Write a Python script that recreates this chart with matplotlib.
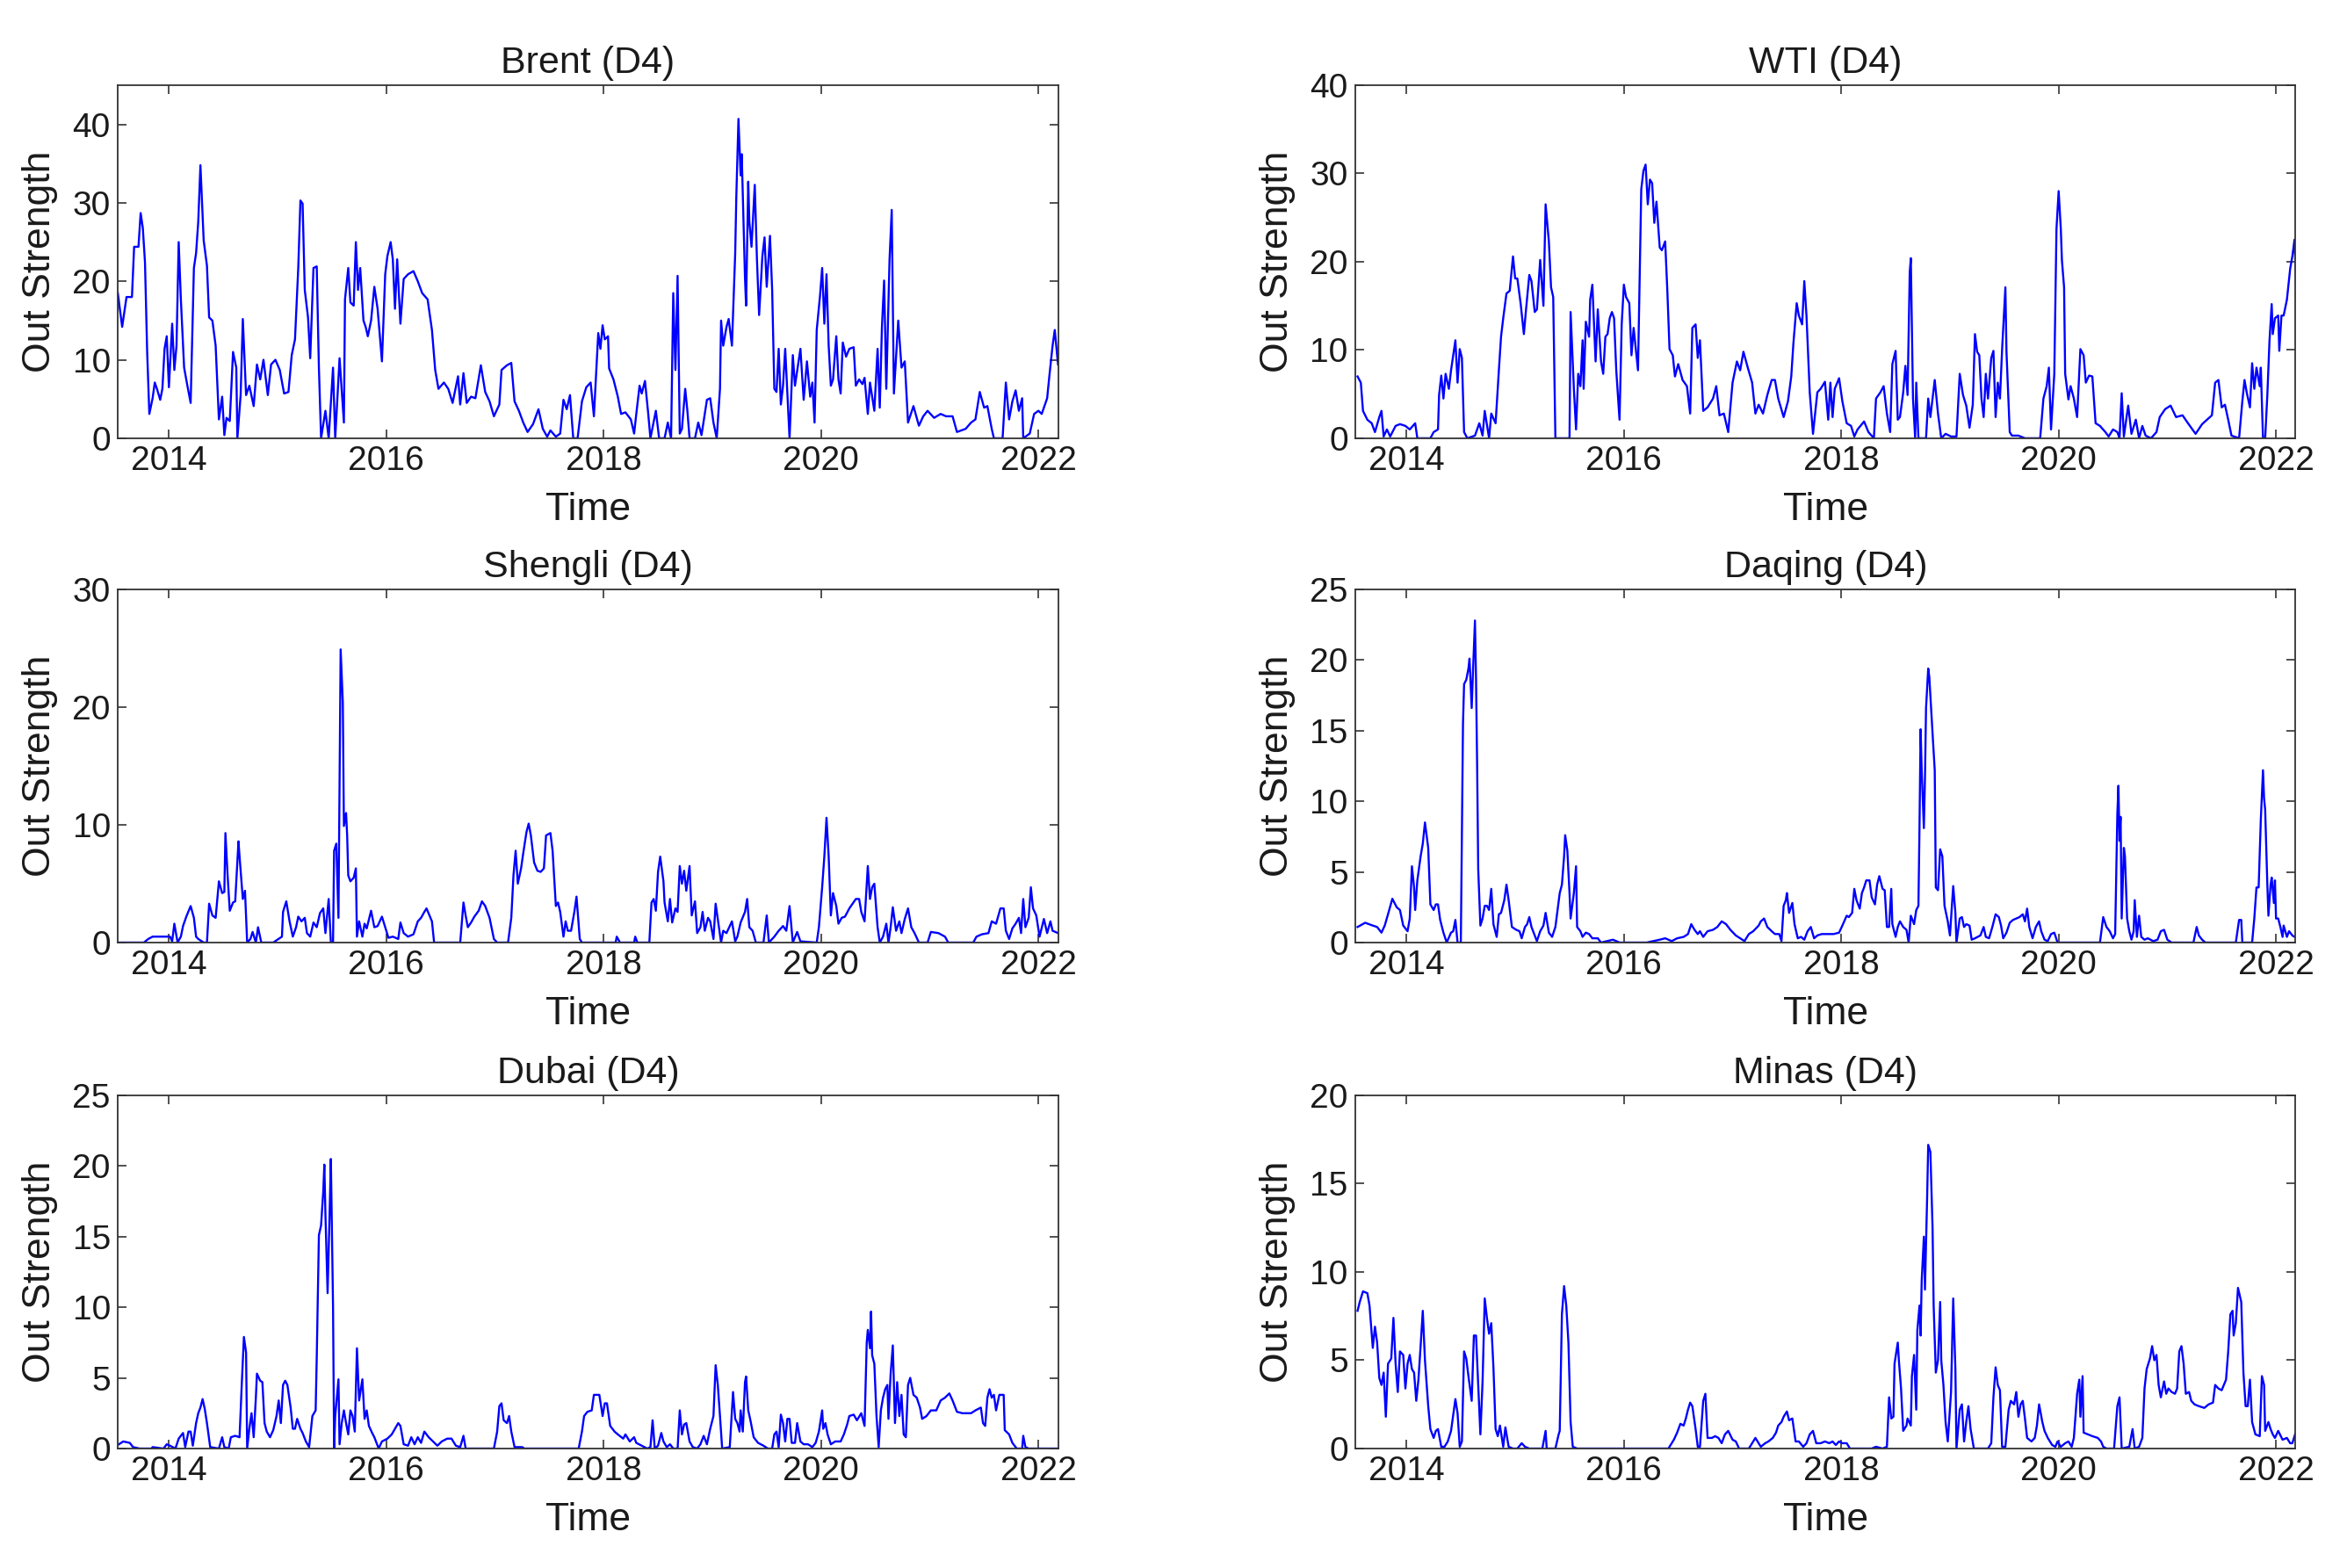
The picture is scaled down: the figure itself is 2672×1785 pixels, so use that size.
import numpy as np
import matplotlib
matplotlib.use('Agg')
import matplotlib.pyplot as plt

plt.rcParams['font.family'] = ['Liberation Sans', 'DejaVu Sans']

# (decimal year, out strength)
brent = [(2013.53,18.5),(2013.57,14.2),(2013.61,18.0),(2013.66,18.0),(2013.68,24.4),(2013.72,24.4),(2013.74,28.7),(2013.76,26.8),(2013.78,22.4),(2013.80,11.0),(2013.82,3.1),(2013.85,5.1),(2013.87,7.1),(2013.89,6.3),(2013.92,4.9),(2013.94,6.3),(2013.96,11.4),(2013.98,13.0),(2014.00,6.5),(2014.03,14.6),(2014.05,8.7),(2014.07,11.8),(2014.09,25.0),(2014.11,17.7),(2014.14,9.0),(2014.17,6.7),(2014.20,4.5),(2014.23,21.7),(2014.25,23.6),(2014.27,27.6),(2014.29,34.8),(2014.32,25.2),(2014.35,22.0),(2014.37,15.4),(2014.40,15.0),(2014.43,11.8),(2014.46,2.4),(2014.49,5.3),(2014.51,0.4),(2014.53,2.6),(2014.56,2.2),(2014.59,11.0),(2014.62,9.0),(2014.63,0.0),(2014.66,5.5),(2014.68,15.2),(2014.71,5.5),(2014.74,6.7),(2014.78,4.1),(2014.81,9.4),(2014.84,7.5),(2014.87,10.0),(2014.91,5.5),(2014.94,9.4),(2014.98,10.0),(2015.02,8.7),(2015.06,5.7),(2015.10,5.9),(2015.13,10.6),(2015.16,12.6),(2015.19,21.7),(2015.21,30.3),(2015.23,29.9),(2015.25,18.9),(2015.28,15.4),(2015.30,10.2),(2015.33,21.7),(2015.36,21.9),(2015.38,9.0),(2015.40,0.0),(2015.44,3.5),(2015.47,0.0),(2015.51,9.0),(2015.53,0.0),(2015.57,10.2),(2015.61,2.0),(2015.62,17.7),(2015.65,21.7),(2015.67,17.3),(2015.70,16.9),(2015.72,25.0),(2015.74,18.9),(2015.76,21.7),(2015.79,15.0),(2015.81,14.2),(2015.83,13.0),(2015.86,15.0),(2015.89,19.3),(2015.92,16.5),(2015.96,9.8),(2015.99,20.9),(2016.01,23.2),(2016.04,25.0),(2016.06,22.8),(2016.08,16.5),(2016.10,22.8),(2016.13,14.6),(2016.16,20.3),(2016.20,20.9),(2016.25,21.3),(2016.29,20.0),(2016.33,18.5),(2016.38,17.7),(2016.42,13.8),(2016.45,8.7),(2016.48,6.3),(2016.53,7.1),(2016.57,6.3),(2016.61,4.5),(2016.66,7.9),(2016.68,4.3),(2016.71,8.3),(2016.74,4.5),(2016.78,5.3),(2016.82,5.1),(2016.87,9.3),(2016.91,5.9),(2016.95,4.7),(2016.99,2.8),(2017.04,4.3),(2017.06,8.7),(2017.11,9.3),(2017.15,9.6),(2017.18,4.7),(2017.22,3.5),(2017.26,2.0),(2017.30,0.8),(2017.35,1.8),(2017.40,3.7),(2017.44,1.2),(2017.48,0.2),(2017.51,1.0),(2017.56,0.2),(2017.60,0.6),(2017.63,4.9),(2017.66,3.7),(2017.69,5.5),(2017.72,0.0),(2017.76,0.0),(2017.80,4.7),(2017.84,6.5),(2017.88,7.1),(2017.91,2.8),
         (2017.95,13.4),(2017.97,11.4),(2017.99,14.4),(2018.01,12.6),(2018.04,13.0),(2018.05,8.9),(2018.09,7.5),(2018.13,5.3),(2018.16,3.1),(2018.20,3.3),(2018.25,2.4),(2018.28,0.6),(2018.30,3.1),(2018.33,6.7),(2018.35,5.7),(2018.38,7.3),(2018.41,3.1),(2018.43,0.0),(2018.48,3.5),(2018.51,0.0),(2018.56,0.0),(2018.59,2.0),(2018.62,0.0),(2018.64,18.5),(2018.66,8.7),(2018.68,20.7),(2018.70,0.6),(2018.72,1.2),(2018.75,6.3),(2018.77,3.5),(2018.79,0.0),(2018.84,0.0),(2018.87,2.0),(2018.90,0.4),(2018.95,4.9),(2018.98,5.1),(2019.01,2.0),(2019.04,0.0),(2019.07,6.3),(2019.08,15.0),(2019.10,11.8),(2019.13,14.2),(2019.15,15.2),(2019.18,11.8),(2019.21,23.6),(2019.22,30.7),(2019.24,40.7),(2019.26,33.5),(2019.27,36.2),(2019.30,20.5),(2019.31,16.9),(2019.33,32.7),(2019.34,27.6),(2019.36,24.4),(2019.39,32.3),(2019.41,22.8),(2019.43,15.7),(2019.46,23.2),(2019.48,25.6),(2019.50,19.3),(2019.53,25.8),(2019.55,18.9),(2019.57,6.3),(2019.59,5.9),(2019.61,11.4),(2019.63,4.3),(2019.65,6.7),(2019.67,11.4),(2019.71,0.0),(2019.74,10.6),(2019.76,6.7),(2019.81,11.4),(2019.84,4.9),(2019.87,9.8),(2019.90,5.3),(2019.92,7.1),(2019.94,2.0),(2019.96,13.8),(2019.99,18.1),(2020.01,21.7),(2020.03,14.6),(2020.05,20.9),(2020.07,11.8),(2020.09,6.7),(2020.11,7.5),(2020.14,13.0),(2020.16,7.5),(2020.18,5.7),(2020.20,12.2),(2020.23,10.4),(2020.26,11.4),(2020.30,11.6),(2020.32,6.7),(2020.35,7.5),(2020.38,6.9),(2020.40,7.7),(2020.43,3.1),(2020.45,7.1),(2020.49,3.5),(2020.52,11.4),(2020.54,3.9),(2020.56,14.2),(2020.58,20.1),(2020.60,6.3),(2020.63,22.8),(2020.65,29.1),(2020.67,5.7),(2020.71,15.0),(2020.74,9.0),(2020.77,9.8),(2020.80,2.0),(2020.85,4.1),(2020.90,1.6),(2020.94,2.8),(2020.98,3.5),(2021.04,2.6),(2021.10,3.1),(2021.15,2.8),(2021.21,2.8),(2021.25,0.8),(2021.33,1.2),(2021.38,2.0),(2021.42,2.4),(2021.46,5.9),(2021.50,3.9),(2021.53,4.1),(2021.57,1.2),(2021.59,0.0),(2021.67,0.0),(2021.70,7.1),(2021.73,2.4),(2021.76,4.7),(2021.79,6.1),(2021.82,3.5),(2021.85,5.1),(2021.86,0.0),(2021.92,0.6),(2021.96,3.1),(2022.00,3.5),(2022.03,3.1),(2022.08,5.1),(2022.10,7.9),(2022.13,11.8),(2022.15,13.8),(2022.18,9.4)]

wti = [(2013.55,7.0),(2013.58,6.3),(2013.60,3.1),(2013.64,2.1),(2013.68,1.7),(2013.71,0.7),(2013.75,2.4),(2013.77,3.1),(2013.79,0.2),(2013.82,1.0),(2013.85,0.2),(2013.90,1.4),(2013.94,1.6),(2013.99,1.4),(2014.03,1.0),(2014.08,1.7),(2014.10,0.0),(2014.22,0.0),(2014.25,0.7),(2014.29,1.0),(2014.30,4.9),(2014.32,7.1),(2014.34,4.5),(2014.36,7.3),(2014.39,5.6),(2014.41,7.7),(2014.43,9.4),(2014.45,11.1),(2014.47,6.3),(2014.49,10.1),(2014.51,9.1),(2014.53,0.7),(2014.56,0.0),(2014.63,0.3),(2014.67,1.7),(2014.70,0.3),(2014.72,3.1),(2014.76,0.0),(2014.78,2.8),(2014.82,1.7),(2014.85,7.7),(2014.87,11.5),(2014.89,13.6),(2014.92,16.4),(2014.95,16.7),(2014.98,20.6),(2015.00,18.1),(2015.02,18.1),(2015.05,15.3),(2015.08,11.8),(2015.10,14.6),(2015.13,18.5),(2015.15,17.8),(2015.18,14.3),(2015.20,14.6),(2015.23,20.2),(2015.26,15.0),(2015.28,26.5),(2015.31,22.3),(2015.33,17.1),(2015.35,16.0),(2015.37,0.0),(2015.50,0.0),(2015.51,14.3),(2015.54,5.6),(2015.56,1.0),(2015.58,7.3),(2015.60,5.9),(2015.62,11.1),(2015.63,5.6),(2015.65,13.2),(2015.68,11.5),(2015.69,15.7),(2015.71,17.4),(2015.74,8.7),(2015.76,14.6),(2015.79,8.7),(2015.81,7.3),(2015.83,11.5),(2015.85,11.8),(2015.87,13.6),(2015.89,14.3),(2015.91,13.6),(2015.93,7.7),(2015.96,2.1),(2015.98,12.9),(2016.00,17.4),(2016.02,16.0),(2016.05,15.3),(2016.07,9.4),(2016.09,12.5),(2016.11,10.1),(2016.13,7.7),(2016.16,28.2),(2016.18,30.3),(2016.20,31.0),(2016.22,26.5),(2016.24,29.3),(2016.26,28.9),(2016.28,24.4),(2016.30,26.8),(2016.33,21.6),(2016.35,21.3),(2016.38,22.3),(2016.40,16.7),(2016.42,10.1),(2016.45,9.4),(2016.47,7.0),(2016.50,8.4),(2016.54,6.6),(2016.58,5.9),(2016.61,2.8),(2016.63,12.5),(2016.66,12.9),(2016.68,9.1),(2016.70,11.1),(2016.73,3.1),(2016.77,3.5),(2016.82,4.5),(2016.85,5.9),(2016.88,2.6),(2016.92,2.8),(2016.96,0.7),(2017.00,6.3),(2017.04,8.7),(2017.07,7.7),(2017.10,9.8),(2017.14,8.0),(2017.18,6.3),(2017.21,2.8),(2017.24,3.8),(2017.28,2.8),(2017.32,4.9),(2017.36,6.6),(2017.39,6.6),(2017.42,4.5),(2017.47,2.4),(2017.51,4.2),(2017.54,7.0),(2017.56,10.8),(2017.59,15.3),(2017.61,13.9),(2017.64,12.9),(2017.66,17.8),(2017.68,13.9),(2017.71,5.2),(2017.74,0.5),(2017.78,5.2),(2017.81,5.6),(2017.85,6.4),(2017.88,2.1),
       (2017.90,6.3),(2017.92,2.4),(2017.94,5.6),(2017.98,6.8),(2018.01,4.2),(2018.05,1.7),(2018.09,1.4),(2018.12,0.2),(2018.15,1.0),(2018.21,1.9),(2018.25,0.7),(2018.30,0.0),(2018.32,4.5),(2018.36,5.2),(2018.39,5.9),(2018.42,2.8),(2018.45,0.7),(2018.47,8.4),(2018.50,9.9),(2018.52,2.1),(2018.54,2.4),(2018.57,5.2),(2018.59,8.2),(2018.61,4.9),(2018.63,18.8),(2018.64,20.4),(2018.66,4.5),(2018.68,0.0),(2018.69,6.3),(2018.71,0.0),(2018.78,0.0),(2018.80,4.5),(2018.82,2.4),(2018.84,4.5),(2018.86,6.6),(2018.89,2.8),(2018.92,0.0),(2018.96,0.5),(2019.01,0.2),(2019.06,0.2),(2019.09,7.3),(2019.12,4.9),(2019.15,3.7),(2019.18,1.2),(2019.21,3.8),(2019.23,11.8),(2019.25,9.8),(2019.27,9.4),(2019.29,4.5),(2019.31,2.4),(2019.33,7.3),(2019.35,4.5),(2019.38,9.1),(2019.40,9.9),(2019.42,2.4),(2019.44,6.3),(2019.46,4.5),(2019.48,10.1),(2019.51,17.1),(2019.52,9.8),(2019.55,0.7),(2019.57,0.3),(2019.63,0.3),(2019.69,0.0),(2019.83,0.0),(2019.86,4.5),(2019.89,5.9),(2019.91,8.0),(2019.93,1.0),(2019.96,7.3),(2019.98,23.7),(2020.00,28.0),(2020.02,23.7),(2020.03,20.2),(2020.05,17.1),(2020.06,7.3),(2020.09,4.4),(2020.11,5.9),(2020.14,4.5),(2020.17,2.4),(2020.20,10.1),(2020.23,9.4),(2020.25,6.3),(2020.28,7.1),(2020.31,7.0),(2020.34,1.7),(2020.38,1.4),(2020.43,0.7),(2020.46,0.2),(2020.50,1.0),(2020.54,0.7),(2020.56,0.0),(2020.58,5.1),(2020.60,0.2),(2020.64,3.7),(2020.67,0.5),(2020.71,2.1),(2020.74,0.0),(2020.77,1.4),(2020.80,0.3),(2020.85,0.0),(2020.90,0.7),(2020.93,2.4),(2020.98,3.3),(2021.03,3.7),(2021.08,2.4),(2021.14,2.6),(2021.19,1.7),(2021.26,0.5),(2021.32,1.6),(2021.41,2.6),(2021.44,6.3),(2021.47,6.6),(2021.50,3.5),(2021.53,3.8),(2021.56,2.1),(2021.59,0.3),(2021.66,0.0),(2021.69,4.2),(2021.71,6.6),(2021.73,5.2),(2021.76,3.5),(2021.78,8.5),(2021.80,5.6),(2021.82,8.0),(2021.85,5.9),(2021.86,8.0),(2021.88,0.0),(2021.90,0.0),(2021.92,4.9),(2021.94,11.1),(2021.96,15.2),(2021.97,11.8),(2021.99,13.6),(2022.02,13.9),(2022.03,9.9),(2022.05,13.9),(2022.07,13.9),(2022.10,15.7),(2022.13,19.2),(2022.15,20.6),(2022.17,22.5),(2022.19,16.0)]

shengli = [(2013.54,0.0),(2013.77,0.0),(2013.81,0.3),(2013.85,0.5),(2013.91,0.5),(2014.01,0.5),(2014.03,0.1),(2014.05,1.6),(2014.08,0.0),(2014.11,0.5),(2014.13,1.4),(2014.16,2.2),(2014.20,3.1),(2014.23,2.1),(2014.25,0.5),(2014.27,0.3),(2014.32,0.0),(2014.35,0.0),(2014.37,3.3),(2014.40,2.3),(2014.43,2.1),(2014.46,5.2),(2014.49,4.2),(2014.51,4.3),(2014.52,9.3),(2014.54,5.7),(2014.56,2.7),(2014.59,3.4),(2014.61,3.5),(2014.64,8.6),(2014.65,7.3),(2014.68,3.7),(2014.70,4.4),(2014.72,0.0),(2014.75,0.3),(2014.77,0.9),(2014.80,0.0),(2014.82,1.3),(2014.85,0.0),(2014.96,0.0),(2015.04,0.5),(2015.05,2.6),(2015.08,3.5),(2015.11,1.8),(2015.14,0.5),(2015.17,1.3),(2015.19,2.2),(2015.22,1.8),(2015.25,2.1),(2015.27,0.8),(2015.30,0.5),(2015.33,1.7),(2015.36,1.3),(2015.39,2.5),(2015.42,2.9),(2015.44,0.8),(2015.47,3.7),(2015.49,0.0),(2015.51,0.0),(2015.52,7.8),(2015.54,8.4),(2015.56,2.1),(2015.58,24.9),(2015.60,20.4),(2015.61,9.9),(2015.63,11.0),(2015.64,9.1),(2015.65,5.7),(2015.67,5.2),(2015.70,5.5),(2015.72,6.3),(2015.73,0.5),(2015.75,1.8),(2015.78,0.5),(2015.80,1.6),(2015.82,1.2),(2015.86,2.7),(2015.89,1.3),(2015.92,1.4),(2015.96,2.2),(2015.99,1.3),(2016.02,0.4),(2016.06,0.5),(2016.11,0.3),(2016.13,1.7),(2016.16,0.8),(2016.20,0.5),(2016.25,0.7),(2016.29,1.8),(2016.32,2.1),(2016.35,2.6),(2016.37,2.9),(2016.42,1.8),(2016.44,0.0),(2016.68,0.0),(2016.71,3.4),(2016.73,2.3),(2016.75,1.3),(2016.78,1.7),(2016.81,2.2),(2016.85,2.7),(2016.88,3.5),(2016.91,3.1),(2016.95,2.1),(2016.99,0.3),(2017.02,0.0),(2017.12,0.0),(2017.15,2.1),(2017.17,5.7),(2017.19,7.8),(2017.21,5.0),(2017.24,6.3),(2017.26,7.6),(2017.29,9.4),(2017.31,10.1),(2017.33,9.1),(2017.36,6.8),(2017.39,6.1),(2017.42,6.0),(2017.45,6.3),(2017.47,9.1),(2017.51,9.3),(2017.53,7.8),(2017.56,3.1),(2017.58,3.4),(2017.60,2.6),(2017.63,0.5),(2017.65,1.8),(2017.67,1.0),(2017.70,1.0),(2017.73,2.6),(2017.75,3.9),(2017.78,0.3),(2017.80,0.0),
           (2018.11,0.0),(2018.12,0.5),(2018.15,0.0),(2018.28,0.0),(2018.29,0.5),(2018.31,0.0),(2018.42,0.0),(2018.44,3.4),(2018.46,3.7),(2018.48,2.7),(2018.50,6.0),(2018.52,7.3),(2018.55,5.2),(2018.56,3.4),(2018.59,1.8),(2018.61,3.7),(2018.63,1.7),(2018.66,2.9),(2018.68,2.6),(2018.70,6.5),(2018.72,5.0),(2018.74,6.1),(2018.76,4.4),(2018.79,6.5),(2018.81,2.3),(2018.84,3.5),(2018.86,0.8),(2018.89,1.3),(2018.91,2.6),(2018.93,1.0),(2018.96,2.1),(2018.98,1.8),(2019.01,0.3),(2019.03,3.3),(2019.06,1.3),(2019.08,0.0),(2019.10,1.0),(2019.13,0.8),(2019.15,1.2),(2019.18,1.8),(2019.21,0.1),(2019.23,0.5),(2019.26,1.7),(2019.30,2.6),(2019.32,3.7),(2019.34,1.3),(2019.37,1.0),(2019.40,0.0),(2019.47,0.0),(2019.50,2.3),(2019.52,0.0),(2019.57,0.5),(2019.61,1.0),(2019.65,1.4),(2019.68,1.0),(2019.71,3.1),(2019.74,0.0),(2019.78,0.9),(2019.81,0.1),(2019.96,0.0),(2019.98,1.3),(2020.01,4.7),(2020.03,7.3),(2020.05,10.6),(2020.07,7.3),(2020.09,2.3),(2020.11,4.2),(2020.14,3.1),(2020.16,1.6),(2020.19,2.1),(2020.22,2.2),(2020.26,2.9),(2020.29,3.3),(2020.32,3.7),(2020.35,3.7),(2020.37,2.6),(2020.40,1.8),(2020.43,6.5),(2020.45,3.7),(2020.47,4.7),(2020.49,5.0),(2020.52,1.3),(2020.54,0.0),(2020.57,0.5),(2020.60,1.6),(2020.62,0.0),(2020.64,1.3),(2020.66,3.0),(2020.69,1.0),(2020.72,1.8),(2020.74,0.8),(2020.77,2.0),(2020.80,2.9),(2020.83,1.3),(2020.86,0.8),(2020.90,0.0),(2020.98,0.0),(2021.01,0.9),(2021.08,0.8),(2021.14,0.5),(2021.17,0.0),(2021.40,0.0),(2021.43,0.5),(2021.48,0.7),(2021.54,0.8),(2021.57,1.8),(2021.61,1.6),(2021.65,2.9),(2021.68,2.9),(2021.70,1.0),(2021.73,0.3),(2021.76,1.2),(2021.79,1.6),(2021.82,2.1),(2021.84,0.8),(2021.86,3.7),(2021.88,1.3),(2021.91,2.1),(2021.93,4.7),(2021.95,2.9),(2021.98,2.3),(2022.01,0.5),(2022.05,2.0),(2022.08,0.8),(2022.11,1.8),(2022.13,1.0),(2022.18,0.8)]

daqing = [(2013.55,1.1),(2013.62,1.4),(2013.69,1.2),(2013.73,1.1),(2013.77,0.7),(2013.80,1.2),(2013.83,2.0),(2013.87,3.1),(2013.91,2.5),(2013.94,2.3),(2013.97,1.2),(2014.01,0.8),(2014.03,1.7),(2014.05,5.4),(2014.07,3.9),(2014.08,2.3),(2014.10,4.4),(2014.13,6.1),(2014.15,7.0),(2014.17,8.5),(2014.20,6.7),(2014.22,2.7),(2014.25,2.3),(2014.27,2.7),(2014.29,2.7),(2014.31,1.6),(2014.34,0.7),(2014.37,0.0),(2014.41,0.7),(2014.43,0.8),(2014.45,1.6),(2014.47,0.0),(2014.50,0.0),(2014.52,15.5),(2014.53,18.3),(2014.55,18.6),(2014.57,19.4),(2014.58,20.1),(2014.60,16.6),(2014.61,18.8),(2014.63,22.8),(2014.64,18.6),(2014.65,12.6),(2014.66,5.2),(2014.68,1.2),(2014.70,1.7),(2014.72,2.6),(2014.74,2.6),(2014.76,2.3),(2014.78,3.8),(2014.80,1.3),(2014.83,0.4),(2014.85,2.0),(2014.87,2.1),(2014.90,3.0),(2014.92,4.1),(2014.94,3.0),(2014.97,1.1),(2015.01,0.9),(2015.04,0.8),(2015.06,0.3),(2015.09,1.1),(2015.11,1.3),(2015.13,1.8),(2015.15,1.1),(2015.18,0.5),(2015.20,0.1),(2015.23,0.8),(2015.26,1.2),(2015.28,2.1),(2015.31,0.7),(2015.34,0.4),(2015.37,1.1),(2015.39,2.3),(2015.41,3.5),(2015.43,4.1),(2015.45,6.1),(2015.46,7.6),(2015.48,6.5),(2015.50,3.5),(2015.51,1.7),(2015.54,3.5),(2015.56,5.4),(2015.57,1.1),(2015.60,0.8),(2015.62,0.4),(2015.65,0.7),(2015.68,0.6),(2015.71,0.3),(2015.76,0.3),(2015.79,0.0),(2015.90,0.2),(2015.96,0.0),(2016.21,0.0),(2016.33,0.2),(2016.38,0.3),(2016.44,0.1),(2016.49,0.3),(2016.55,0.4),(2016.59,0.6),(2016.62,1.3),(2016.65,0.9),(2016.68,0.6),(2016.70,0.8),(2016.73,0.4),(2016.77,0.8),(2016.82,0.9),(2016.86,1.1),(2016.90,1.5),(2016.94,1.3),(2016.98,0.9),(2017.03,0.5),(2017.07,0.3),(2017.11,0.1),(2017.15,0.6),(2017.19,0.8),(2017.24,1.2),(2017.26,1.5),(2017.29,1.7),(2017.32,1.1),(2017.36,0.8),(2017.39,0.6),(2017.43,0.6),(2017.45,0.1),(2017.47,2.6),(2017.49,3.0),(2017.50,3.5),(2017.52,2.1),(2017.55,2.8),(2017.57,1.3),(2017.60,0.3),(2017.63,0.4),(2017.66,0.2),(2017.69,0.8),(2017.72,1.1),(2017.75,0.3),(2017.78,0.5),(2017.82,0.6),(2017.89,0.6),
          (2017.93,0.6),(2017.98,0.7),(2018.01,1.2),(2018.05,1.9),(2018.07,1.8),(2018.10,2.1),(2018.12,3.8),(2018.14,3.0),(2018.17,2.4),(2018.19,3.5),(2018.21,3.9),(2018.23,4.4),(2018.26,4.4),(2018.28,3.2),(2018.31,2.7),(2018.33,4.1),(2018.35,4.7),(2018.38,3.8),(2018.40,3.7),(2018.42,1.1),(2018.44,1.1),(2018.46,3.8),(2018.47,1.3),(2018.50,0.4),(2018.52,1.1),(2018.54,1.5),(2018.57,1.1),(2018.60,0.9),(2018.62,0.0),(2018.64,1.9),(2018.67,1.3),(2018.69,2.3),(2018.71,2.6),(2018.72,8.3),(2018.73,15.1),(2018.74,12.2),(2018.76,8.1),(2018.77,11.6),(2018.78,16.6),(2018.80,19.4),(2018.81,18.8),(2018.83,16.1),(2018.84,14.8),(2018.86,12.2),(2018.87,3.9),(2018.89,3.7),(2018.91,6.6),(2018.93,6.1),(2018.95,2.6),(2018.98,1.5),(2019.00,0.5),(2019.03,4.0),(2019.05,2.1),(2019.06,0.0),(2019.09,1.7),(2019.11,1.8),(2019.13,1.1),(2019.15,1.3),(2019.18,1.2),(2019.20,0.2),(2019.23,0.3),(2019.28,0.5),(2019.31,1.1),(2019.33,0.4),(2019.36,0.3),(2019.39,1.1),(2019.42,2.0),(2019.45,1.8),(2019.47,1.2),(2019.49,0.3),(2019.52,0.7),(2019.55,1.4),(2019.58,1.6),(2019.61,1.7),(2019.64,1.8),(2019.67,2.0),(2019.69,1.5),(2019.71,2.4),(2019.73,1.1),(2019.76,0.3),(2019.79,1.1),(2019.82,1.5),(2019.84,0.8),(2019.87,0.2),(2019.90,0.1),(2019.93,0.6),(2019.96,0.7),(2019.99,0.0),(2020.38,0.0),(2020.41,1.8),(2020.44,1.1),(2020.47,0.8),(2020.50,0.3),(2020.52,0.6),(2020.54,9.1),(2020.55,11.1),(2020.56,7.2),(2020.57,8.9),(2020.58,1.7),(2020.60,6.7),(2020.61,6.1),(2020.63,1.7),(2020.65,0.8),(2020.67,0.2),(2020.69,0.8),(2020.70,3.0),(2020.72,0.4),(2020.74,1.9),(2020.76,0.4),(2020.79,0.2),(2020.82,0.3),(2020.87,0.1),(2020.91,0.2),(2020.94,0.8),(2020.97,0.9),(2021.00,0.2),(2021.04,0.0),(2021.24,0.0),(2021.27,1.1),(2021.29,0.5),(2021.32,0.2),(2021.35,0.0),(2021.63,0.0),(2021.66,1.6),(2021.68,1.6),(2021.69,0.0),(2021.78,0.0),(2021.80,1.7),(2021.82,3.9),(2021.84,3.9),(2021.86,8.7),(2021.88,12.2),(2021.89,10.2),(2021.90,9.4),(2021.92,4.1),(2021.93,1.9),(2021.95,4.1),(2021.96,4.6),(2021.98,2.8),(2021.99,4.4),(2022.00,1.7),(2022.02,1.7),(2022.04,1.1),(2022.06,0.4),(2022.07,1.2),(2022.10,0.4),(2022.12,0.8),(2022.15,0.5),(2022.17,0.4)]

dubai = [(2013.54,0.3),(2013.58,0.5),(2013.64,0.4),(2013.67,0.1),(2013.73,0.0),(2013.84,0.0),(2013.85,0.1),(2013.95,0.0),(2013.98,0.3),(2014.01,0.2),(2014.06,0.0),(2014.09,0.7),(2014.13,1.1),(2014.15,0.1),(2014.18,1.2),(2014.20,1.2),(2014.22,0.2),(2014.25,1.8),(2014.27,2.5),(2014.29,2.9),(2014.31,3.5),(2014.33,2.8),(2014.35,1.8),(2014.38,0.1),(2014.46,0.0),(2014.49,0.8),(2014.51,0.1),(2014.55,0.0),(2014.57,0.8),(2014.61,0.9),(2014.65,0.8),(2014.67,4.5),(2014.69,7.9),(2014.71,6.8),(2014.72,0.0),(2014.74,1.4),(2014.76,2.5),(2014.78,0.8),(2014.80,3.6),(2014.81,5.3),(2014.84,4.8),(2014.86,4.7),(2014.88,1.8),(2014.90,1.2),(2014.93,0.8),(2014.96,1.3),(2014.99,2.3),(2015.01,3.4),(2015.03,1.8),(2015.05,4.5),(2015.07,4.8),(2015.09,4.5),(2015.12,2.9),(2015.14,1.4),(2015.16,1.4),(2015.18,2.1),(2015.21,1.4),(2015.23,1.1),(2015.26,0.5),(2015.29,0.1),(2015.32,2.3),(2015.35,2.7),(2015.36,6.4),(2015.38,15.1),(2015.40,15.8),(2015.42,18.2),(2015.43,20.1),(2015.44,16.6),(2015.46,11.0),(2015.48,17.1),(2015.49,20.5),(2015.51,10.1),(2015.52,0.0),(2015.53,2.3),(2015.56,4.9),(2015.57,0.3),(2015.59,1.8),(2015.61,2.7),(2015.63,1.8),(2015.65,1.0),(2015.67,2.7),(2015.69,2.3),(2015.71,1.2),(2015.73,7.1),(2015.75,3.4),(2015.78,4.9),(2015.80,2.1),(2015.82,2.7),(2015.84,1.6),(2015.87,1.1),(2015.89,0.8),(2015.93,0.0),(2015.96,0.5),(2016.01,0.7),(2016.05,1.0),(2016.08,1.4),(2016.11,1.8),(2016.13,1.6),(2016.16,0.3),(2016.20,0.2),(2016.23,0.8),(2016.26,0.3),(2016.29,0.8),(2016.32,0.4),(2016.35,1.2),(2016.39,0.8),(2016.43,0.5),(2016.47,0.2),(2016.51,0.5),(2016.56,0.7),(2016.60,0.7),(2016.64,0.2),(2016.68,0.1),(2016.71,0.9),(2016.73,0.0),(2016.99,0.0),(2017.02,1.2),(2017.04,3.0),(2017.06,3.2),(2017.08,2.0),(2017.11,1.8),(2017.13,2.3),(2017.15,1.2),(2017.18,0.1),(2017.25,0.1),(2017.27,0.0),(2017.77,0.0),(2017.80,1.2),(2017.82,2.3),(2017.85,2.6),(2017.89,2.7),(2017.91,3.8),
         (2017.94,3.8),(2017.96,3.8),(2017.99,2.3),(2018.01,3.2),(2018.03,3.2),(2018.06,1.6),(2018.10,1.2),(2018.13,1.0),(2018.18,0.7),(2018.20,1.0),(2018.24,0.5),(2018.28,0.8),(2018.30,0.4),(2018.35,0.2),(2018.40,0.0),(2018.43,0.1),(2018.45,2.0),(2018.47,0.0),(2018.50,0.2),(2018.53,1.1),(2018.55,0.5),(2018.58,0.1),(2018.61,0.3),(2018.64,0.0),(2018.68,0.0),(2018.70,2.7),(2018.72,1.0),(2018.74,1.7),(2018.76,1.8),(2018.79,0.5),(2018.82,0.1),(2018.86,0.0),(2018.89,0.3),(2018.92,0.9),(2018.95,0.3),(2018.98,1.4),(2019.01,2.3),(2019.03,5.9),(2019.05,4.5),(2019.07,2.3),(2019.09,0.0),(2019.16,0.1),(2019.19,4.0),(2019.21,2.1),(2019.23,1.8),(2019.25,1.2),(2019.26,2.7),(2019.28,1.2),(2019.30,4.7),(2019.31,5.1),(2019.33,2.7),(2019.35,2.0),(2019.38,0.8),(2019.42,0.4),(2019.47,0.2),(2019.51,0.0),(2019.55,0.0),(2019.57,1.0),(2019.59,1.2),(2019.61,0.1),(2019.63,2.4),(2019.65,1.8),(2019.67,0.5),(2019.69,2.1),(2019.71,2.1),(2019.73,0.4),(2019.76,0.4),(2019.78,1.8),(2019.81,0.5),(2019.84,0.3),(2019.88,0.3),(2019.92,0.1),(2019.95,0.4),(2019.98,1.2),(2020.01,2.7),(2020.02,1.4),(2020.04,1.8),(2020.06,1.0),(2020.09,0.3),(2020.13,0.5),(2020.18,0.5),(2020.21,1.0),(2020.24,1.7),(2020.26,2.3),(2020.30,2.4),(2020.33,2.0),(2020.37,2.5),(2020.40,1.6),(2020.42,7.5),(2020.43,8.4),(2020.45,7.1),(2020.46,9.7),(2020.47,6.6),(2020.49,6.0),(2020.51,2.3),(2020.53,0.1),(2020.55,2.7),(2020.57,3.6),(2020.59,4.2),(2020.61,4.5),(2020.62,2.1),(2020.64,5.3),(2020.66,7.3),(2020.68,1.8),(2020.70,4.7),(2020.72,2.3),(2020.74,3.8),(2020.76,1.0),(2020.78,0.8),(2020.80,4.5),(2020.82,5.0),(2020.85,3.8),(2020.88,3.6),(2020.91,2.9),(2020.93,2.1),(2020.97,2.3),(2021.01,2.7),(2021.06,2.7),(2021.10,3.4),(2021.14,3.6),(2021.18,3.9),(2021.21,3.4),(2021.25,2.6),(2021.30,2.5),(2021.34,2.5),(2021.38,2.5),(2021.42,2.7),(2021.47,2.9),(2021.49,1.8),(2021.51,1.6),(2021.53,3.6),(2021.55,4.2),(2021.57,3.6),(2021.59,3.8),(2021.61,2.7),(2021.64,3.8),(2021.68,3.8),(2021.69,1.3),(2021.73,1.0),(2021.76,0.4),(2021.80,0.0),(2021.85,0.0),(2021.86,0.9),(2021.88,0.1),(2021.91,0.0),(2022.18,0.0)]

minas = [(2013.55,7.8),(2013.57,8.3),(2013.60,8.9),(2013.64,8.8),(2013.66,8.1),(2013.69,5.7),(2013.71,6.9),(2013.73,6.0),(2013.75,4.0),(2013.77,3.6),(2013.79,4.3),(2013.81,1.8),(2013.83,4.8),(2013.86,5.1),(2013.88,7.4),(2013.90,4.8),(2013.92,3.2),(2013.94,5.5),(2013.97,5.3),(2013.99,3.4),(2014.01,4.8),(2014.03,5.3),(2014.05,4.5),(2014.07,4.3),(2014.09,2.7),(2014.11,3.9),(2014.13,5.8),(2014.15,7.8),(2014.17,5.0),(2014.20,2.4),(2014.22,1.1),(2014.25,0.6),(2014.27,1.0),(2014.29,1.1),(2014.32,0.1),(2014.35,0.1),(2014.38,0.4),(2014.41,1.0),(2014.45,2.8),(2014.47,2.0),(2014.49,0.1),(2014.51,0.4),(2014.53,5.5),(2014.55,5.1),(2014.57,4.1),(2014.60,2.7),(2014.62,6.4),(2014.64,6.4),(2014.66,3.6),(2014.68,0.8),(2014.70,3.8),(2014.72,8.5),(2014.74,7.4),(2014.76,6.5),(2014.78,7.1),(2014.80,4.6),(2014.82,1.1),(2014.84,0.7),(2014.86,1.3),(2014.89,0.1),(2014.91,1.2),(2014.94,0.1),(2014.98,0.0),(2015.02,0.0),(2015.06,0.3),(2015.09,0.1),(2015.13,0.0),(2015.25,0.0),(2015.28,1.0),(2015.29,0.0),(2015.37,0.0),(2015.40,0.8),(2015.41,1.0),(2015.43,7.6),(2015.45,9.2),(2015.47,8.1),(2015.49,6.0),(2015.51,1.5),(2015.53,0.1),(2015.57,0.0),(2016.41,0.0),(2016.44,0.3),(2016.46,0.5),(2016.49,0.9),(2016.52,1.4),(2016.55,1.3),(2016.57,1.7),(2016.59,2.2),(2016.61,2.6),(2016.63,2.4),(2016.66,1.1),(2016.68,0.1),(2016.70,0.1),(2016.73,2.7),(2016.75,3.1),(2016.77,0.6),(2016.81,0.6),(2016.84,0.7),(2016.87,0.6),(2016.90,0.3),(2016.93,0.8),(2016.96,1.0),(2017.00,0.5),(2017.03,0.4),(2017.06,0.0),(2017.15,0.0),(2017.18,0.3),(2017.21,0.6),(2017.24,0.3),(2017.26,0.1),(2017.30,0.3),(2017.33,0.4),(2017.37,0.6),(2017.40,0.9),(2017.42,1.3),(2017.45,1.5),(2017.47,1.8),(2017.50,2.1),(2017.52,1.6),(2017.55,1.7),(2017.58,0.4),(2017.61,0.4),(2017.65,0.1),(2017.68,0.3),(2017.71,0.8),(2017.74,1.0),(2017.77,0.3),(2017.81,0.3),(2017.85,0.4),(2017.89,0.3),
         (2017.92,0.4),(2017.95,0.2),(2017.98,0.4),(2018.01,0.3),(2018.05,0.3),(2018.08,0.0),(2018.28,0.0),(2018.32,0.1),(2018.38,0.0),(2018.42,0.1),(2018.44,2.9),(2018.46,1.7),(2018.48,1.8),(2018.49,4.8),(2018.52,6.0),(2018.53,5.0),(2018.55,3.4),(2018.57,1.0),(2018.60,1.3),(2018.61,1.7),(2018.64,1.3),(2018.65,4.1),(2018.67,5.3),(2018.69,2.2),(2018.70,6.7),(2018.72,8.1),(2018.73,6.4),(2018.74,9.5),(2018.76,12.0),(2018.77,9.0),(2018.79,14.2),(2018.80,17.2),(2018.82,16.8),(2018.84,12.5),(2018.85,8.1),(2018.87,4.3),(2018.89,5.0),(2018.91,8.3),(2018.92,5.0),(2018.94,3.6),(2018.96,1.5),(2018.98,0.4),(2019.01,3.2),(2019.03,8.5),(2019.05,4.5),(2019.06,0.0),(2019.09,2.2),(2019.11,2.5),(2019.13,0.4),(2019.15,1.5),(2019.17,2.4),(2019.19,1.1),(2019.22,0.0),(2019.35,0.0),(2019.38,0.3),(2019.40,2.9),(2019.42,4.6),(2019.44,3.6),(2019.46,3.3),(2019.48,0.1),(2019.51,0.1),(2019.54,2.2),(2019.56,2.7),(2019.59,2.5),(2019.61,3.2),(2019.63,1.8),(2019.65,2.5),(2019.67,2.7),(2019.69,1.7),(2019.71,0.6),(2019.75,0.4),(2019.78,0.6),(2019.80,1.3),(2019.82,2.5),(2019.85,1.5),(2019.87,1.0),(2019.90,0.6),(2019.94,0.2),(2019.97,0.1),(2019.99,0.4),(2020.02,0.1),(2020.06,0.3),(2020.09,0.4),(2020.12,0.1),(2020.14,0.6),(2020.17,3.1),(2020.19,3.9),(2020.20,1.8),(2020.22,4.1),(2020.23,0.9),(2020.27,0.8),(2020.31,0.7),(2020.36,0.6),(2020.39,0.4),(2020.41,0.1),(2020.44,0.0),(2020.51,0.0),(2020.54,2.4),(2020.56,2.9),(2020.58,0.0),(2020.65,0.1),(2020.68,1.1),(2020.70,0.0),(2020.74,0.1),(2020.77,0.6),(2020.79,3.4),(2020.81,4.5),(2020.84,5.1),(2020.86,5.8),(2020.88,5.0),(2020.90,5.3),(2020.92,3.6),(2020.94,2.9),(2020.97,3.8),(2020.99,3.1),(2021.01,3.4),(2021.04,3.2),(2021.07,3.1),(2021.09,3.4),(2021.11,5.5),(2021.13,5.8),(2021.15,4.8),(2021.17,3.1),(2021.20,3.2),(2021.22,2.7),(2021.25,2.5),(2021.29,2.4),(2021.34,2.3),(2021.38,2.5),(2021.42,2.6),(2021.44,3.6),(2021.47,3.4),(2021.50,3.3),(2021.54,3.9),(2021.56,5.5),(2021.58,7.6),(2021.60,7.8),(2021.61,6.4),(2021.63,7.1),(2021.65,9.1),(2021.68,8.3),(2021.70,4.3),(2021.72,2.4),(2021.74,2.4),(2021.76,3.9),(2021.78,1.5),(2021.81,0.8),(2021.85,0.7),(2021.87,4.1),(2021.89,3.6),(2021.90,1.0),(2021.93,1.5),(2021.95,1.1),(2021.97,0.8),(2021.99,0.6),(2022.02,1.0),(2022.06,0.5),(2022.10,0.6),(2022.13,0.3),(2022.15,0.3),(2022.18,0.9)]

titles = ['Brent (D4)', 'WTI (D4)', 'Shengli (D4)', 'Daqing (D4)', 'Dubai (D4)', 'Minas (D4)']
series = [brent, wti, shengli, daqing, dubai, minas]
ytops = [45, 40, 30, 25, 25, 20]
ysteps = [10, 10, 10, 5, 5, 5]
xticks = [2014, 2016, 2018, 2020, 2022]

# axes boxes in figure fractions (left, bottom, width, height)
lefts = [0.0502, 0.5775]
bottoms = [0.7205, 0.3989, 0.0762]

fig = plt.figure(figsize=(26.72, 17.85), dpi=100)
for i, (title, data) in enumerate(zip(titles, series)):
    ax = fig.add_axes([lefts[i % 2], bottoms[i // 2], 0.4006, 0.2252])
    t, v = np.array(data).T
    ax.plot(t, v, color='#0000ff', lw=1.7)
    ax.set_xlim(2013.53, 2022.18)
    ax.set_ylim(0, ytops[i])
    ax.set_xticks(xticks)
    ax.set_yticks(np.arange(0, ytops[i] + 0.1, ysteps[i]))
    ax.tick_params(direction='in', top=True, right=True, length=7, width=1.2,
                   labelsize=28, pad=6, color='0.2', labelcolor='0.1')
    for s in ax.spines.values():
        s.set_color('0.2')
        s.set_linewidth(1.3)
    ax.set_title(title, fontsize=31, pad=10, color='0.1')
    ax.set_xlabel('Time', fontsize=32, labelpad=12, color='0.1')
    ax.set_ylabel('Out Strength', fontsize=32, labelpad=12, color='0.1')

fig.savefig('out.png', dpi=100)
